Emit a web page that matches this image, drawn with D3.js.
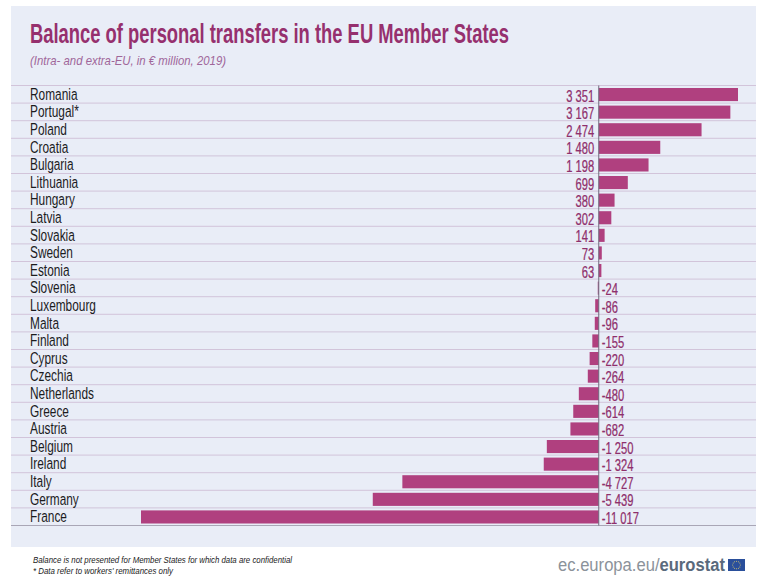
<!DOCTYPE html>
<html>
<head>
<meta charset="utf-8">
<script src="https://cdn.jsdelivr.net/npm/d3@7"></script>
<style>
  html, body { margin: 0; padding: 0; background: #fff; }
  svg { display: block; }
  text { font-family: "Liberation Sans", sans-serif; }
</style>
</head>
<body>
<svg id="chart" width="767" height="581"></svg>
<script>
const countries = ['Romania', 'Portugal*', 'Poland', 'Croatia', 'Bulgaria', 'Lithuania', 'Hungary', 'Latvia',
  'Slovakia', 'Sweden', 'Estonia', 'Slovenia', 'Luxembourg', 'Malta', 'Finland', 'Cyprus', 'Czechia',
  'Netherlands', 'Greece', 'Austria', 'Belgium', 'Ireland', 'Italy', 'Germany', 'France'];
const balances = [3351, 3167, 2474, 1480, 1198, 699, 380, 302, 141, 73, 63, -24, -86, -96, -155, -220, -264,
  -480, -614, -682, -1250, -1324, -4727, -5439, -11017];

const svg = d3.select('#chart');
const plum = '#b0407f';
const plumText = '#8f2f6c';
const fmt = d3.formatLocale({ decimal: '.', thousands: ' ', grouping: [3], currency: ['', ''], minus: '-' }).format(',d');

const x = d3.scaleLinear().domain([-11017, 3351]).range([141, 738]);
const y = d3.scaleBand().domain(countries).range([85.5, 525.5]).paddingInner(0).paddingOuter(0);

svg.append('rect').attr('x', 11).attr('y', 6).attr('width', 745).attr('height', 541).attr('fill', '#e9edf7');

svg.append('text').attr('x', 30).attr('y', 43)
  .attr('fill', '#96306e').attr('font-size', 28).attr('font-weight', 'bold')
  .attr('textLength', 479).attr('lengthAdjust', 'spacingAndGlyphs')
  .text('Balance of personal transfers in the EU Member States');

svg.append('text').attr('x', 30).attr('y', 65)
  .attr('fill', '#a0669a').attr('font-size', 13).attr('font-style', 'italic')
  .attr('textLength', 196).attr('lengthAdjust', 'spacingAndGlyphs')
  .text('(Intra- and extra-EU, in € million, 2019)');

// row separators
svg.append('g').selectAll('line')
  .data(countries.concat(['end']))
  .join('line')
  .attr('x1', 11).attr('x2', 756)
  .attr('y1', (d, i) => y.range()[0] + i * y.step())
  .attr('y2', (d, i) => y.range()[0] + i * y.step())
  .attr('stroke', (d, i) => i === countries.length ? '#a9a6b6' : '#d2c4da')
  .attr('stroke-width', 1);

// bars
svg.append('g').selectAll('rect')
  .data(countries)
  .join('rect')
  .attr('x', (d, i) => Math.min(x(0), x(balances[i])))
  .attr('y', d => y(d) + 2.5)
  .attr('width', (d, i) => Math.abs(x(balances[i]) - x(0)))
  .attr('height', y.bandwidth() - 4.5)
  .attr('fill', plum);

// zero line
svg.append('line')
  .attr('x1', x(0)).attr('x2', x(0))
  .attr('y1', y.range()[0]).attr('y2', y.range()[1])
  .attr('stroke', '#6f6a7c').attr('stroke-width', 1);

// country names, squeezed because no condensed font is around
const axis = d3.axisLeft(y).tickSize(0).tickPadding(0);
const axisG = svg.append('g').attr('transform', 'translate(30,0.3)').call(axis);
axisG.select('.domain').remove();
axisG.selectAll('text')
  .attr('text-anchor', 'start')
  .attr('x', 0)
  .attr('dy', '0.32em')
  .attr('transform', 'scale(0.72,1)')
  .attr('fill', '#1c1c1e')
  .style('font-size', '16.5px')
  .style('font-family', '"Liberation Sans", sans-serif');

// value labels
svg.append('g').selectAll('text')
  .data(countries)
  .join('text')
  .attr('transform', (d, i) => {
    const tx = balances[i] < 0 ? x(0) + 3 : x(0) - 4.5;
    return `translate(${tx},${y(d) + y.bandwidth() / 2 + 1.5}) scale(0.7,1)`;
  })
  .attr('dy', '0.36em')
  .attr('text-anchor', (d, i) => balances[i] < 0 ? 'start' : 'end')
  .attr('fill', plumText)
  .attr('font-size', 16)
  .attr('stroke', plumText)
  .attr('stroke-width', 0.25)
  .text((d, i) => fmt(balances[i]));

// footnotes
svg.append('text').attr('x', 33).attr('y', 563)
  .attr('fill', '#222').attr('font-size', 9.5).attr('font-style', 'italic')
  .attr('textLength', 259).attr('lengthAdjust', 'spacingAndGlyphs')
  .text('Balance is not presented for Member States for which data are confidential');
svg.append('text').attr('x', 33).attr('y', 574)
  .attr('fill', '#222').attr('font-size', 9.5).attr('font-style', 'italic')
  .attr('textLength', 140).attr('lengthAdjust', 'spacingAndGlyphs')
  .text('* Data refer to workers\' remittances only');

// eurostat address and flag
const link = svg.append('text').attr('x', 558).attr('y', 571)
  .attr('font-size', 17.5).attr('fill', '#8b929a')
  .attr('textLength', 167).attr('lengthAdjust', 'spacingAndGlyphs');
link.append('tspan').text('ec.europa.eu/');
link.append('tspan').attr('font-weight', 'bold').attr('fill', '#5a6a7c').text('eurostat');

svg.append('rect').attr('x', 728).attr('y', 559).attr('width', 17).attr('height', 12).attr('fill', '#2a4f9b');
svg.append('g').selectAll('circle')
  .data(d3.range(12))
  .join('circle')
  .attr('cx', d => 736.5 + 3.8 * Math.cos(d * Math.PI / 6))
  .attr('cy', d => 565 + 3.8 * Math.sin(d * Math.PI / 6))
  .attr('r', 0.5)
  .attr('fill', '#e6d36a');
</script>
</body>
</html>
